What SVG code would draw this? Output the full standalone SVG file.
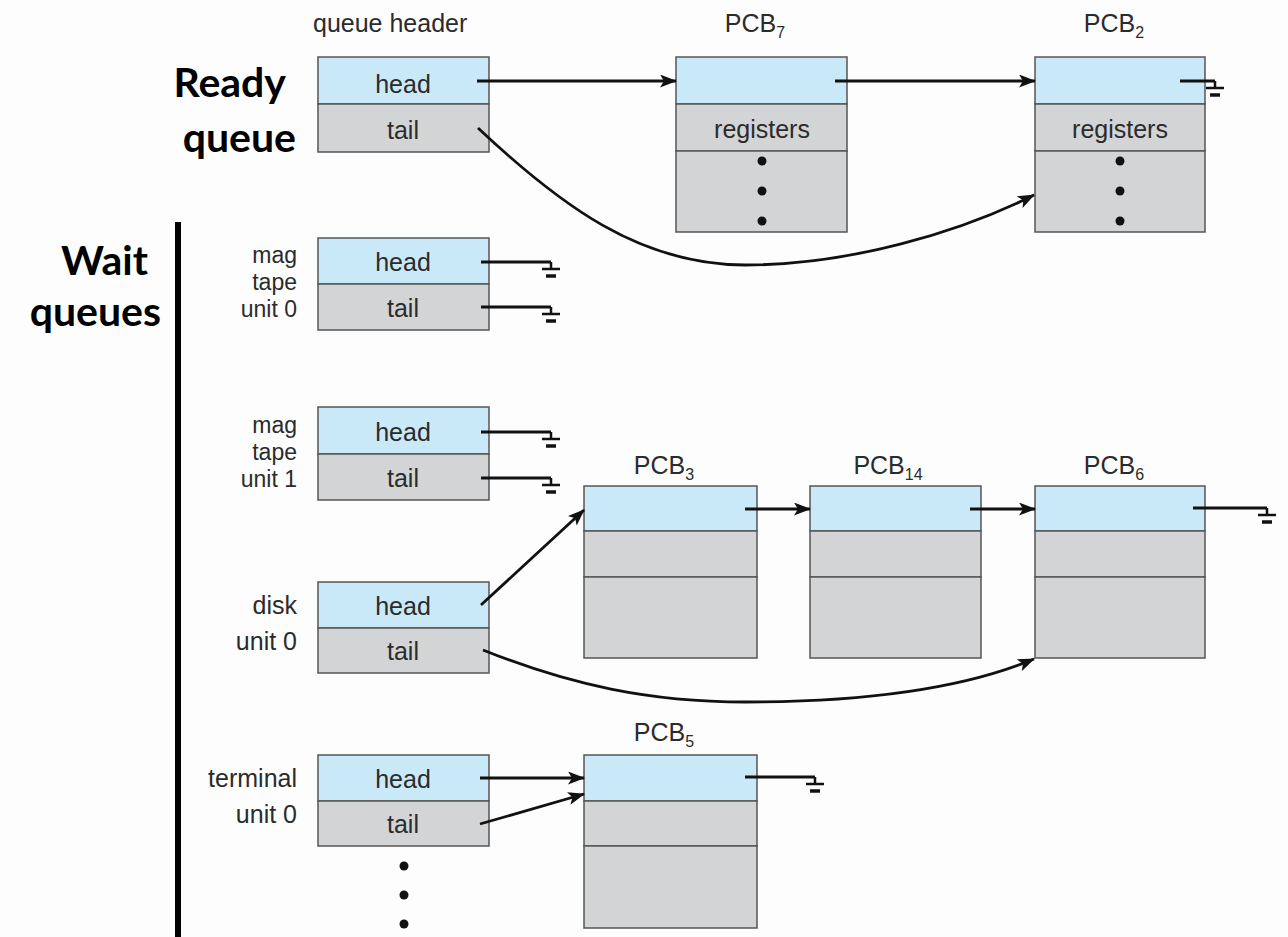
<svg xmlns="http://www.w3.org/2000/svg" width="1288" height="937" viewBox="0 0 1288 937">
<defs>
<marker id="ah" viewBox="0 0 17 13" refX="16" refY="6.5" markerWidth="17" markerHeight="13" markerUnits="userSpaceOnUse" orient="auto">
<path d="M0,0 L17,6.5 L0,13 L4,6.5 Z" fill="#111"/>
</marker>
<g id="gnd">
<path d="M0,0 V7 M-9,7 H9" stroke="#111" stroke-width="2.5" fill="none"/>
<path d="M-5,14 H5" stroke="#111" stroke-width="3.5" fill="none"/>
</g>
</defs>
<style>
.blue{fill:#c9e9f9;stroke:#555;stroke-width:1.5}
.gray{fill:#d3d4d6;stroke:#555;stroke-width:1.5}
.t{font-family:"Liberation Sans",Arial,sans-serif;font-size:25px;fill:#2b2b2b}
.s{font-size:23px}
.c{text-anchor:middle}
.r{text-anchor:end}
.b{font-family:Lato,"Liberation Sans",sans-serif;font-weight:bold;font-size:41px;fill:#000}
.ln{stroke:#111;stroke-width:2.8;fill:none}
.ar{stroke:#111;stroke-width:2.8;fill:none;marker-end:url(#ah)}
.dot{fill:#111}
</style>
<rect width="1288" height="937" fill="#fdfdfd"/>

<g id="titles">
<text class="t" x="313" y="32">queue header</text>
<text class="b r" x="286" y="97">Ready</text>
<text class="b r" x="296" y="152">queue</text>
<text class="b r" x="148" y="275">Wait</text>
<text class="b r" x="161" y="326">queues</text>
<rect x="175" y="222" width="6" height="715" fill="#000"/>
</g>

<g id="ready-header">
<rect class="blue" x="318" y="57" width="171" height="47"/>
<rect class="gray" x="318" y="104" width="171" height="48"/>
<text class="t c" x="403" y="93">head</text>
<text class="t c" x="403" y="139">tail</text>
</g>

<g id="pcb7">
<text class="t c" x="755" y="32">PCB<tspan font-size="16" dy="6">7</tspan></text>
<rect class="blue" x="676" y="57" width="171" height="47"/>
<rect class="gray" x="676" y="104" width="171" height="47"/>
<rect class="gray" x="676" y="151" width="171" height="81"/>
<text class="t c" x="762" y="138">registers</text>
<circle class="dot" cx="762" cy="161" r="4.5"/>
<circle class="dot" cx="762" cy="191" r="4.5"/>
<circle class="dot" cx="762" cy="221" r="4.5"/>
</g>

<g id="pcb2">
<text class="t c" x="1114" y="32">PCB<tspan font-size="16" dy="6">2</tspan></text>
<rect class="blue" x="1035" y="57" width="170" height="47"/>
<rect class="gray" x="1035" y="104" width="170" height="47"/>
<rect class="gray" x="1035" y="151" width="170" height="81"/>
<text class="t c" x="1120" y="138">registers</text>
<circle class="dot" cx="1120" cy="161" r="4.5"/>
<circle class="dot" cx="1120" cy="191" r="4.5"/>
<circle class="dot" cx="1120" cy="221" r="4.5"/>
</g>

<g id="magtape0">
<text class="t s r" x="297" y="263">mag</text>
<text class="t s r" x="297" y="290">tape</text>
<text class="t s r" x="297" y="317">unit 0</text>
<rect class="blue" x="318" y="238" width="171" height="46"/>
<rect class="gray" x="318" y="284" width="171" height="46"/>
<text class="t c" x="403" y="271">head</text>
<text class="t c" x="403" y="317">tail</text>
</g>

<g id="magtape1">
<text class="t s r" x="297" y="433">mag</text>
<text class="t s r" x="297" y="460">tape</text>
<text class="t s r" x="297" y="487">unit 1</text>
<rect class="blue" x="318" y="407" width="171" height="47"/>
<rect class="gray" x="318" y="454" width="171" height="46"/>
<text class="t c" x="403" y="441">head</text>
<text class="t c" x="403" y="487">tail</text>
</g>

<g id="disk0">
<text class="t r" x="297" y="614">disk</text>
<text class="t r" x="297" y="650">unit 0</text>
<rect class="blue" x="318" y="582" width="171" height="46"/>
<rect class="gray" x="318" y="628" width="171" height="45"/>
<text class="t c" x="403" y="615">head</text>
<text class="t c" x="403" y="660">tail</text>
</g>

<g id="terminal0">
<text class="t r" x="297" y="787">terminal</text>
<text class="t r" x="297" y="823">unit 0</text>
<rect class="blue" x="318" y="755" width="171" height="46"/>
<rect class="gray" x="318" y="801" width="171" height="45"/>
<text class="t c" x="403" y="788">head</text>
<text class="t c" x="403" y="833">tail</text>
<circle class="dot" cx="404" cy="866" r="4.5"/>
<circle class="dot" cx="404" cy="895" r="4.5"/>
<circle class="dot" cx="404" cy="924" r="4.5"/>
</g>

<g id="pcb3">
<text class="t c" x="664" y="474">PCB<tspan font-size="16" dy="6">3</tspan></text>
<rect class="blue" x="584" y="486" width="173" height="45"/>
<rect class="gray" x="584" y="531" width="173" height="46"/>
<rect class="gray" x="584" y="577" width="173" height="81"/>
</g>

<g id="pcb14">
<text class="t c" x="888" y="474">PCB<tspan font-size="16" dy="6">14</tspan></text>
<rect class="blue" x="810" y="486" width="171" height="45"/>
<rect class="gray" x="810" y="531" width="171" height="46"/>
<rect class="gray" x="810" y="577" width="171" height="81"/>
</g>

<g id="pcb6">
<text class="t c" x="1114" y="474">PCB<tspan font-size="16" dy="6">6</tspan></text>
<rect class="blue" x="1035" y="486" width="170" height="45"/>
<rect class="gray" x="1035" y="531" width="170" height="46"/>
<rect class="gray" x="1035" y="577" width="170" height="81"/>
</g>

<g id="pcb5">
<text class="t c" x="664" y="741">PCB<tspan font-size="16" dy="6">5</tspan></text>
<rect class="blue" x="584" y="755" width="173" height="46"/>
<rect class="gray" x="584" y="801" width="173" height="45"/>
<rect class="gray" x="584" y="846" width="173" height="82"/>
</g>

<g id="connectors">
<path class="ar" d="M477,81 H676"/>
<path class="ar" d="M835,81 H1035"/>
<path class="ln" d="M1180,81 H1215"/>
<use href="#gnd" x="1215" y="81"/>
<path class="ar" d="M478,128 C560,205 640,265 745,265 C850,265 960,232 1034,195"/>

<path class="ln" d="M481,262 H551"/>
<use href="#gnd" x="551" y="262"/>
<path class="ln" d="M481,307 H551"/>
<use href="#gnd" x="551" y="307"/>
<path class="ln" d="M481,432 H551"/>
<use href="#gnd" x="551" y="432"/>
<path class="ln" d="M481,478 H551"/>
<use href="#gnd" x="551" y="478"/>

<path class="ar" d="M481,605 L584,510"/>
<path class="ar" d="M745,509 H810"/>
<path class="ar" d="M970,509 H1035"/>
<path class="ln" d="M1193,508 H1267"/>
<use href="#gnd" x="1267" y="508"/>
<path class="ar" d="M483,650 C570,685 650,702 745,702 C860,702 960,690 1034,659"/>

<path class="ar" d="M480,778 H584"/>
<path class="ar" d="M480,824 L584,794"/>
<path class="ln" d="M745,777 H815"/>
<use href="#gnd" x="815" y="777"/>
</g>
</svg>
